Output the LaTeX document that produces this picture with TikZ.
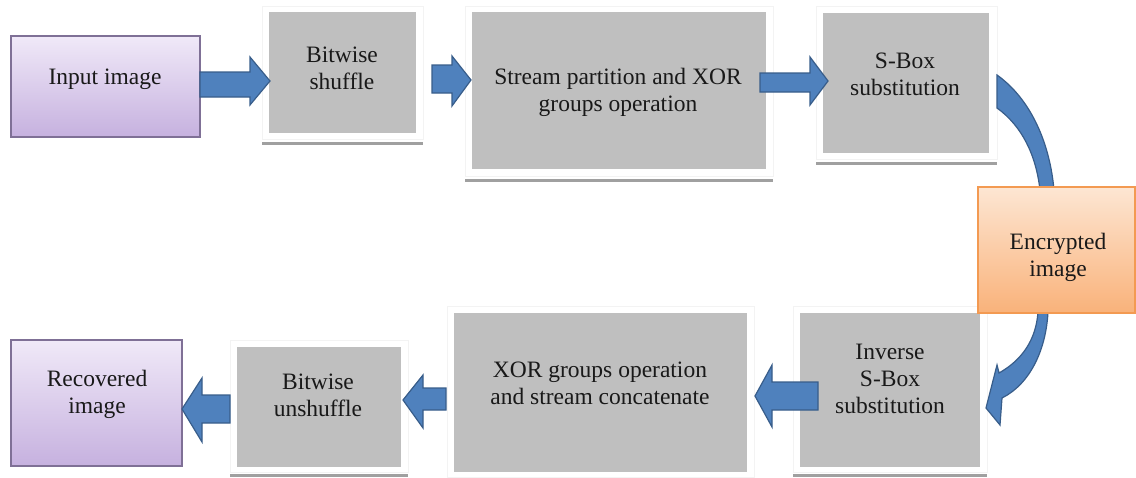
\documentclass[tikz,border=0pt]{standalone}
\usepackage{fontspec}
\setmainfont{Liberation Serif}
\definecolor{boxgray}{HTML}{BFBFBF}
\definecolor{shadowgray}{HTML}{A0A0A0}
\definecolor{framegray}{HTML}{F3F3F3}
\definecolor{arrowblue}{HTML}{4F81BD}
\definecolor{arrowdark}{HTML}{385D8A}
\definecolor{purpletop}{HTML}{F0E9F8}
\definecolor{purplebot}{HTML}{C6B1DF}
\definecolor{purpleedge}{HTML}{7F7096}
\definecolor{orangetop}{HTML}{FDE6D3}
\definecolor{orangebot}{HTML}{F9B27A}
\definecolor{orangeedge}{HTML}{F39A52}
\tikzset{
  graybox/.style={rectangle, fill=boxgray, draw=none, inner sep=0pt, outer sep=0pt},
  framebox/.style={fill=white, draw=framegray, line width=0.8pt},
  shadowline/.style={draw=shadowgray, line width=3pt},
  purplebox/.style={rectangle, top color=purpletop, bottom color=purplebot, draw=purpleedge, line width=1.2pt, inner sep=0pt, outer sep=0pt},
  orangebox/.style={rectangle, top color=orangetop, bottom color=orangebot, draw=orangeedge, line width=1.2pt, inner sep=0pt, outer sep=0pt},
  blockarrow/.style={fill=arrowblue, draw=arrowdark, line width=1.2pt, line join=miter},
  lbl/.style={font=\fontsize{23.5pt}{27pt}\selectfont, align=center, inner sep=0pt, text=black!90},
}
\begin{document}
\begin{tikzpicture}[x=1pt,y=-1pt]
\useasboundingbox (0,0) rectangle (1136,477);
% frames with bottom shadow lines
\filldraw[framebox] (262,6) rectangle (423,139);
\draw[shadowline] (262,143) -- (423,143);
\filldraw[framebox] (465,6) rectangle (773,176);
\draw[shadowline] (465,180) -- (773,180);
\filldraw[framebox] (816,6) rectangle (997,159);
\draw[shadowline] (816,163) -- (997,163);
\filldraw[framebox] (793,306) rectangle (987,472);
\draw[shadowline] (793,475) -- (987,475);
\filldraw[framebox] (447,306) rectangle (754,477);
\filldraw[framebox] (230,340) rectangle (408,472);
\draw[shadowline] (230,475) -- (408,475);
% boxes
\node[purplebox, minimum width=189pt, minimum height=101pt] (input) at (105.5,86.5) {};
\node[graybox, minimum width=147pt, minimum height=121pt] (shuffle) at (342.5,72.5) {};
\node[graybox, minimum width=294pt, minimum height=157pt] (stream) at (619,90.5) {};
\node[graybox, minimum width=166pt, minimum height=140pt] (sbox) at (906,83) {};
\node[graybox, minimum width=180pt, minimum height=154pt] (inv) at (890,390) {};
\node[graybox, minimum width=293pt, minimum height=159pt] (xorc) at (600.5,392.5) {};
\node[graybox, minimum width=164pt, minimum height=120pt] (unshuffle) at (319,407) {};
\node[purplebox, minimum width=171pt, minimum height=126pt] (recovered) at (96.5,403) {};
% straight block arrows
\filldraw[blockarrow] (input.east|-0,72) -- (250,72) -- (250,57) -- (270,81) -- (250,105) -- (250,97) -- (input.east|-0,97) -- cycle;
\filldraw[blockarrow] (432,65) -- (452,65) -- (452,56) -- (471,80) -- (452,106) -- (452,93) -- (432,93) -- cycle;
\filldraw[blockarrow] (760,73) -- (810,73) -- (810,57) -- (828,81) -- (810,105) -- (810,92) -- (760,92) -- cycle;
\filldraw[blockarrow] (818,382) -- (772,382) -- (772,365) -- (755,396) -- (772,427) -- (772,410) -- (818,410) -- cycle;
\filldraw[blockarrow] (446,388) -- (423,388) -- (423,375) -- (403,400) -- (423,428) -- (423,410) -- (446,410) -- cycle;
\filldraw[blockarrow] (230,395) -- (202,395) -- (202,378) -- (recovered.east|-0,409) -- (202,442) -- (202,423) -- (230,423) -- cycle;
% curved arrows
\filldraw[blockarrow] (997,75) .. controls (1032,100) and (1050,145) .. (1054,190) -- (1040,190) .. controls (1036,155) and (1022,126) .. (997,108) -- cycle;
\filldraw[blockarrow] (1038,312) .. controls (1036,340) and (1022,360) .. (999,373) -- (997,365) -- (986,408) -- (1000,425) -- (1002,398) .. controls (1030,384) and (1046,350) .. (1048,312) -- cycle;
% encrypted box
\node[orangebox, minimum width=157pt, minimum height=126pt] (enc) at (1056.5,250) {};
% labels
\node[lbl] (tinput) at (105,79) {Input image};
\node[lbl] (tshuffle) at (342,68) {Bitwise\\shuffle};
\node[lbl] (tstream) at (618,92) {Stream partition and XOR\\groups operation};
\node[lbl] (tsbox) at (905,74) {S-Box\\substitution};
\node[lbl] (tenc) at (1058,257) {Encrypted\\image};
\node[lbl] (tinv) at (890,379) {Inverse\\S-Box\\substitution};
\node[lbl] (txor) at (600,383) {XOR groups operation\\and stream concatenate};
\node[lbl] (tunshuffle) at (318,395) {Bitwise\\unshuffle};
\node[lbl] (trecovered) at (97,394) {Recovered\\image};
\end{tikzpicture}
\end{document}
